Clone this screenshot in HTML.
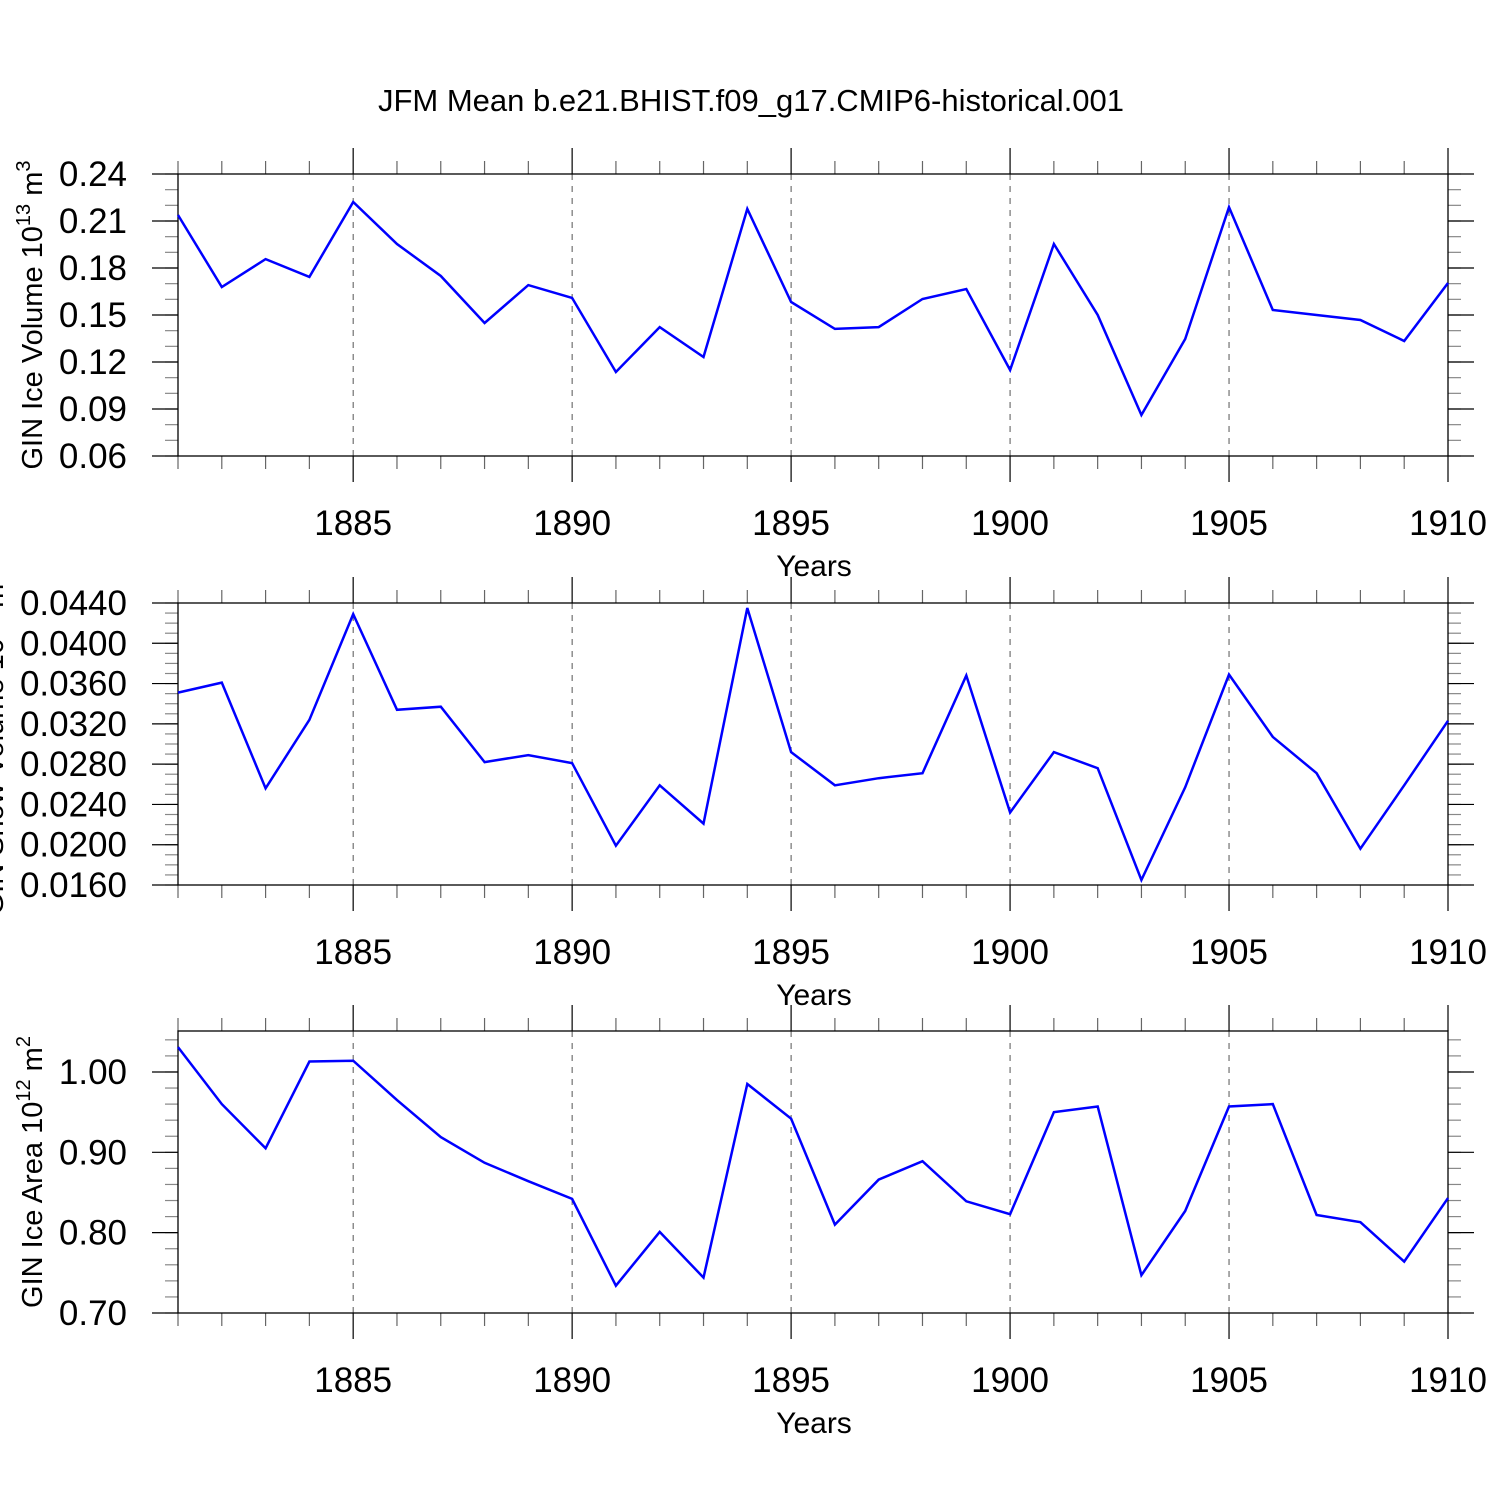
<!DOCTYPE html>
<html><head><meta charset="utf-8"><style>
html,body{margin:0;padding:0;background:#fff;}
svg{display:block;font-family:"Liberation Sans",Arial,sans-serif;}
</style></head><body>
<svg id="chart" width="1500" height="1500" viewBox="0 0 1500 1500" xmlns="http://www.w3.org/2000/svg">
<text x="751" y="111" font-size="31" text-anchor="middle">JFM Mean b.e21.BHIST.f09_g17.CMIP6-historical.001</text>
</svg>
<script>
const years = [1881,1882,1883,1884,1885,1886,1887,1888,1889,1890,1891,1892,1893,1894,1895,1896,1897,1898,1899,1900,1901,1902,1903,1904,1905,1906,1907,1908,1909,1910];
const iceVolume = [0.2138,0.1679,0.1857,0.1743,0.2221,0.1953,0.1749,0.1449,0.1691,0.1609,0.1136,0.1423,0.1232,0.2177,0.1583,0.1411,0.1423,0.1602,0.1666,0.1149,0.1953,0.1500,0.0862,0.1347,0.2189,0.1532,0.1500,0.1468,0.1334,0.1704];
const snowVolume = [0.0351,0.0361,0.0256,0.0324,0.0429,0.0334,0.0337,0.0282,0.0289,0.0281,0.0199,0.0259,0.0221,0.0435,0.0292,0.0259,0.0266,0.0271,0.0368,0.0232,0.0292,0.0276,0.0165,0.0257,0.0369,0.0307,0.0271,0.0196,0.0259,0.0323];
const iceArea = [1.031,0.960,0.905,1.013,1.014,0.965,0.919,0.887,0.864,0.842,0.734,0.801,0.744,0.985,0.942,0.810,0.866,0.889,0.839,0.823,0.950,0.957,0.747,0.827,0.957,0.960,0.822,0.813,0.764,0.843];
const xTickLabels = [1885,1890,1895,1900,1905,1910];
const volTicks = ["0.06","0.09","0.12","0.15","0.18","0.21","0.24"];
const snowTicks = ["0.0160","0.0200","0.0240","0.0280","0.0320","0.0360","0.0400","0.0440"];
const areaTicks = ["0.70","0.80","0.90","1.00"];

const NS="http://www.w3.org/2000/svg";
const svg=document.getElementById('chart');
function mk(tag,attrs,parent){const e=document.createElementNS(NS,tag);for(const k in attrs)e.setAttribute(k,attrs[k]);(parent||svg).appendChild(e);return e;}
const X0=178,X1=1448;
function xs(y){return X0+(y-1881)/(1910-1881)*(X1-X0);}

function panel(id,top,ymin,ymax,ticks,minorStep,values,label,exp,labelX){
  const bot=top+282;
  const g=mk('g',{});
  
  
  const ys=v=>bot-(v-ymin)/(ymax-ymin)*(bot-top);
  for(const t of xTickLabels){ if(t===1910) continue;
    const l=mk('line',{x1:xs(t),x2:xs(t),y1:top,y2:bot,stroke:'#555','stroke-width':1,'stroke-dasharray':'6,6'},g);
    
    
  }
  for(const yr of years){
    const major=(yr%5===0);
    const len=major?26:13;
    const c=major?'#000':'#666';
    mk('line',{x1:xs(yr),x2:xs(yr),y1:top-len,y2:top,stroke:c,'stroke-width':1.2},g);
    mk('line',{x1:xs(yr),x2:xs(yr),y1:bot,y2:bot+len,stroke:c,'stroke-width':1.2},g);
  }
  for(let v=ymin;v<=ymax+1e-9;v+=minorStep){
    const y=ys(v);
    mk('line',{x1:X0-13,x2:X0,y1:y,y2:y,stroke:'#888','stroke-width':1.2},g);
    mk('line',{x1:X1,x2:X1+13,y1:y,y2:y,stroke:'#888','stroke-width':1.2},g);
  }
  for(const t of ticks){
    const y=ys(parseFloat(t));
    mk('line',{x1:X0-26,x2:X0,y1:y,y2:y,stroke:'#000','stroke-width':1.2},g);
    mk('line',{x1:X1,x2:X1+26,y1:y,y2:y,stroke:'#000','stroke-width':1.2},g);
    const tx=mk('text',{x:127,y:y+12,'font-size':35,'text-anchor':'end'},g);
    tx.textContent=t;
    
    
  }
  mk('rect',{x:X0,y:top,width:X1-X0,height:bot-top,fill:'none',stroke:'#000','stroke-width':1.3},g);
  for(const t of xTickLabels){
    const tx=mk('text',{x:xs(t),y:bot+79,'font-size':35,'text-anchor':'middle'},g);
    tx.textContent=t;
    
    
  }
  const xt=mk('text',{x:814,y:bot+120,'font-size':30,'text-anchor':'middle'},g);
  xt.textContent='Years';
  
  
  const yl=mk('text',{x:0,y:0,'font-size':29,'text-anchor':'middle',transform:`translate(${labelX},${(top+bot)/2}) rotate(-90)`},g);
  
  
  yl.appendChild(document.createTextNode(label+' 10'));
  const s1=document.createElementNS(NS,'tspan');s1.setAttribute('font-size','20');s1.setAttribute('dy','-12');s1.textContent=exp[0];yl.appendChild(s1);
  const s2=document.createElementNS(NS,'tspan');s2.setAttribute('dy','12');s2.textContent=' m';yl.appendChild(s2);
  const s3=document.createElementNS(NS,'tspan');s3.setAttribute('font-size','20');s3.setAttribute('dy','-12');s3.textContent=exp[1];yl.appendChild(s3);
  const pts=values.map((v,i)=>xs(years[i]).toFixed(1)+','+ys(v).toFixed(1)).join(' ');
  const pl=mk('polyline',{points:pts,fill:'none',stroke:'#0000ff','stroke-width':2.5,'stroke-linejoin':'miter'},g);
  
  
}
panel('ice-volume',174,0.06,0.24,volTicks,0.01,iceVolume,'GIN Ice Volume',['13','3'],42);
panel('snow-volume',603,0.016,0.044,snowTicks,0.001,snowVolume,'GIN Snow Volume',['13','3'],3);
panel('ice-area',1031,0.70,1.051,areaTicks,0.02,iceArea,'GIN Ice Area',['12','2'],42);
</script>
</body></html>
